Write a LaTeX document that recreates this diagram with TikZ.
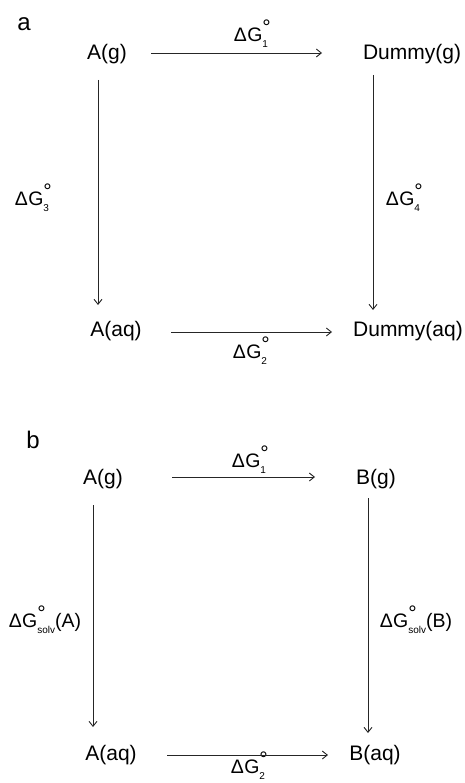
\documentclass[tikz,border=0pt]{standalone}
\usepackage{fontspec}
\setmainfont{Liberation Sans}
\usetikzlibrary{arrows.meta}
\newcommand{\dGlab}[1]{Δ\kern0.3pt G\rlap{\raisebox{0.36em}{\fontsize{21}{21}\selectfont °}}\raisebox{-0.3em}{\fontsize{10}{10}\selectfont #1}}
\begin{document}
\begin{tikzpicture}[x=1pt,y=-1pt,
  spec/.style={inner sep=0pt,font=\fontsize{21}{22}\selectfont},
  glab/.style={inner sep=0pt,font=\fontsize{19.5}{20}\selectfont},
  panel/.style={inner sep=0pt,font=\fontsize{24}{24}\selectfont},
  rxn/.style={line width=0.9pt,draw=black!85,-{Straight Barb[length=5pt,width=8pt]}}]
\useasboundingbox (0,0) rectangle (464,783);
% ---------- panel a ----------
\node[panel] (la) at (24,24) {a};
\node[spec] (aAg)  at (107,54) {A(g)};
\node[spec] (aDg)  at (412,54) {Dummy(g)};
\node[spec] (aAaq) at (116,331) {A(aq)};
\node[spec] (aDaq) at (408,331) {Dummy(aq)};
\node[glab] (aG1) at (251,34) {\dGlab{1}};
\node[glab] (aG2) at (250,351) {\dGlab{2}};
\node[glab] (aG3) at (32,198) {\dGlab{3}};
\node[glab] (aG4) at (403,198) {\dGlab{4}};
\coordinate (a1s) at (151,53);  \coordinate (a1e) at (322,53);
\coordinate (a2s) at (171,332); \coordinate (a2e) at (332,332);
\coordinate (a3s) at (98,80);   \coordinate (a3e) at (98,305);
\coordinate (a4s) at (373,75);  \coordinate (a4e) at (373,310);
\draw[rxn] (a1s) -- (a1e);
\draw[rxn] (a2s) -- (a2e);
\draw[rxn] (a3s) -- (a3e);
\draw[rxn] (a4s) -- (a4e);
% ---------- panel b ----------
\node[panel] (lb) at (33,440) {b};
\node[spec] (bAg)  at (103,479) {A(g)};
\node[spec] (bBg)  at (376,479) {B(g)};
\node[spec] (bAaq) at (111,755) {A(aq)};
\node[spec] (bBaq) at (375,755) {B(aq)};
\node[glab] (bG1) at (249,460) {\dGlab{1}};
\node[glab] (bG2) at (248,766) {\dGlab{2}};
\node[glab] (bGA) at (45,620) {\dGlab{solv}(A)};
\node[glab] (bGB) at (416,620) {\dGlab{solv}(B)};
\coordinate (b1s) at (172,477); \coordinate (b1e) at (315,477);
\coordinate (b2s) at (167,755); \coordinate (b2e) at (328,755);
\coordinate (b3s) at (93,505);  \coordinate (b3e) at (93,727);
\coordinate (b4s) at (368,498); \coordinate (b4e) at (368,733);
\draw[rxn] (b1s) -- (b1e);
\draw[rxn] (b2s) -- (b2e);
\draw[rxn] (b3s) -- (b3e);
\draw[rxn] (b4s) -- (b4e);
\end{tikzpicture}
\end{document}
